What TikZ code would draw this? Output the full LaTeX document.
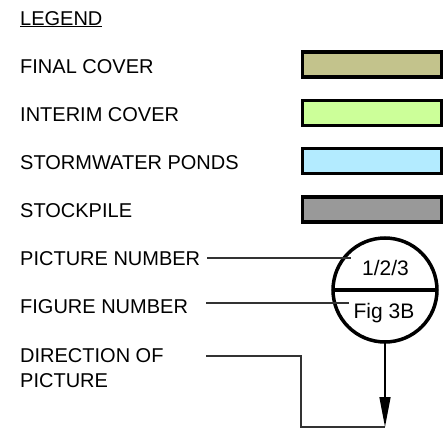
\documentclass[tikz,border=0pt]{standalone}
\usepackage{fontspec}
\setmainfont{Liberation Sans}
\usetikzlibrary{arrows.meta}
\definecolor{finalc}{RGB}{195,195,140}
\definecolor{interimc}{RGB}{204,255,153}
\definecolor{pondc}{RGB}{179,235,255}
\definecolor{stockc}{RGB}{153,153,153}
\definecolor{leadc}{RGB}{50,50,50}
\tikzset{
  lbl/.style={anchor=base west,inner sep=0pt,font=\fontsize{20}{23}\selectfont},
  swatch/.style={draw=black,line width=3.3pt,rectangle,minimum width=139pt,minimum height=25pt,inner sep=0pt,outer sep=0pt},
  leader/.style={draw=leadc,line width=1.3pt},
  circtxt/.style={inner sep=0pt,font=\fontsize{21}{24}\selectfont},
}
\begin{document}
\begin{tikzpicture}[x=1pt,y=1pt]
\fill[white] (0,0) rectangle (448,-431);
\useasboundingbox (0,0) rectangle (448,-431);
% legend text
\node[lbl] (leg) at (20,-25) {\underline{LEGEND}};
\node[lbl] (t1) at (20,-73) {FINAL COVER};
\node[lbl] (t2) at (20,-121) {INTERIM COVER};
\node[lbl] (t3) at (20,-169) {STORMWATER PONDS};
\node[lbl] (t4) at (20,-217) {STOCKPILE};
\node[lbl] (t5) at (20,-265) {PICTURE NUMBER};
\node[lbl] (t6) at (20,-313) {FIGURE NUMBER};
\node[lbl] (t7) at (20,-362) {DIRECTION OF};
\node[lbl] (t8) at (20,-387) {PICTURE};
% swatches
\path[swatch,fill=finalc] (302.5,-52) rectangle (441.5,-77) coordinate (b1);
\path[swatch,fill=interimc] (302.5,-100.5) rectangle (441.5,-125.5) coordinate (b2);
\path[swatch,fill=pondc] (302.5,-148.5) rectangle (441.5,-173.5) coordinate (b3);
\path[swatch,fill=stockc] (302.5,-197) rectangle (441.5,-222) coordinate (b4);
% circle symbol
\coordinate (cc) at (385,-290);
\draw[line width=3.5pt] (cc) circle[radius=52pt];
\coordinate (cw) at (333,-290);
\coordinate (ce) at (437,-290);
\coordinate (cs) at (385,-342);
\draw[line width=3.5pt] (cw) -- (ce);
\node[circtxt] (n1) at (385.5,-267.5) {1/2/3};
\node[circtxt] (n2) at (384,-313) {Fig 3B};
% leaders
\coordinate (l1s) at (207,-258);
\coordinate (l1e) at (351,-258);
\coordinate (l2s) at (206,-303);
\coordinate (l2e) at (349,-303);
\draw[leader] (l1s) -- (l1e);
\draw[leader] (l2s) -- (l2e);
\coordinate (d1) at (206,-356);
\coordinate (d2) at (301,-356);
\coordinate (d3) at (301,-427);
\coordinate (tip) at (385,-427);
\draw[leader,line width=1.6pt] (d1) -- (d2) -- (d3) -- (tip);
\draw[line width=1.5pt,-{Triangle[length=30pt,width=11pt]}] (cs) -- (tip);
\end{tikzpicture}
\end{document}
